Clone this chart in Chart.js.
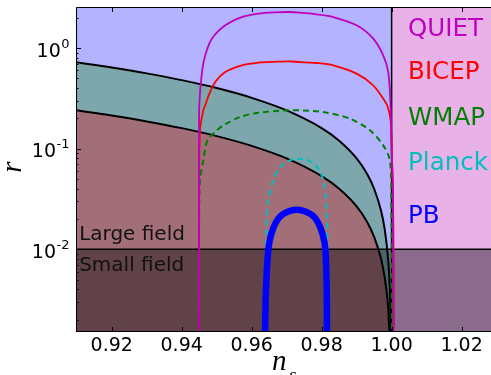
<!DOCTYPE html>
<html lang="en">
<head>
    <meta charset="UTF-8">
    <title>Tensor-to-scalar ratio vs spectral index</title>
    <script src="https://cdn.jsdelivr.net/npm/chart.js"></script>
    <style>
        html, body { margin: 0; padding: 0; background: #fff; }
        canvas { display: block; }
    </style>
</head>
<body>
    <canvas id="rnsChart" width="491" height="375"></canvas>
    <script>
        // axis ranges and ticks
        const nsRange = [0.9098, 1.0284];
        const rRange = [0.00151, 2.556];
        const xTicks = [0.92, 0.94, 0.96, 0.98, 1.00, 1.02];
        const xTickLabels = ['0.92', '0.94', '0.96', '0.98', '1.00', '1.02'];
        const yTicks = [0.01, 0.1, 1];
        const yTickExponents = ['-2', '-1', '0'];

        // n_s = 1 divider and the large / small field boundary
        const nsDivider = 1.0;
        const rFieldBoundary = 0.01;

        // chaotic inflation bounds (upper and lower edge of the large-field band)
        const boundNs = [0.9098, 0.92, 0.93, 0.94, 0.95, 0.96, 0.97, 0.98, 0.985, 0.99, 0.993, 0.995, 0.997, 0.998, 0.999, 0.9995, 0.9998, 1.0];
        const upperR  = [0.7216, 0.64, 0.56, 0.48, 0.40, 0.32, 0.24, 0.16, 0.12, 0.08, 0.056, 0.04, 0.024, 0.016, 0.008, 0.004, 0.0016, 0.0014];
        const lowerR  = [0.2405, 0.2133, 0.1867, 0.16, 0.1333, 0.1067, 0.08, 0.0533, 0.04, 0.0267, 0.0187, 0.0133, 0.008, 0.0053, 0.0027, 0.0013, 0.0013, 0.0013];

        // experiment contours, traced from bottom-left over the top to bottom-right
        const quietNs = [0.9449, 0.9449, 0.9450, 0.94503, 0.9458, 0.94674, 0.94866, 0.95246, 0.95723, 0.962, 0.9665, 0.9706, 0.9738, 0.9786, 0.98331, 0.99, 0.99474, 0.9976, 0.99903, 0.99971, 1.0, 1.00037, 1.0005, 1.00066];
        const quietR  = [0.0014, 0.01, 0.1, 0.2697, 0.5775, 0.8462, 1.24, 1.681, 2.032, 2.197, 2.26, 2.279, 2.247, 2.162, 2.032, 1.681, 1.24, 0.8462, 0.5775, 0.2697, 0.0964, 0.0432, 0.0098, 0.0014];

        const bicepNs = [0.9449, 0.9450, 0.94523, 0.94617, 0.94674, 0.94771, 0.9496, 0.95246, 0.95723, 0.962, 0.9664, 0.97057, 0.9738, 0.9785, 0.98331, 0.99, 0.99474, 0.9976, 0.99874, 0.99971, 1.0001, 1.0004, 1.0006];
        const bicepR  = [0.0014, 0.05, 0.1522, 0.2405, 0.2697, 0.3388, 0.4595, 0.5775, 0.673, 0.716, 0.73, 0.7377, 0.726, 0.71, 0.673, 0.5567, 0.426, 0.3143, 0.2697, 0.1913, 0.08, 0.03, 0.0014];

        const wmapNs = [0.9449, 0.9450, 0.94523, 0.94617, 0.94735, 0.94951, 0.95189, 0.95666, 0.96143, 0.97094, 0.98046, 0.98809, 0.9938, 0.9976, 0.99951, 0.9999, 1.0001];
        const wmapR  = [0.0014, 0.02, 0.0485, 0.0766, 0.121, 0.1464, 0.1706, 0.2063, 0.226, 0.2405, 0.2312, 0.1989, 0.1522, 0.108, 0.0766, 0.03, 0.0014];

        const planckNs = [0.9639, 0.9640, 0.96409, 0.96428, 0.96474, 0.96617, 0.96809, 0.97094, 0.9738, 0.97666, 0.97903, 0.98046, 0.98123, 0.9816, 0.9817];
        const planckR  = [0.0014, 0.005, 0.01054, 0.0194, 0.0307, 0.0485, 0.0657, 0.0766, 0.0796, 0.0754, 0.0634, 0.0485, 0.0307, 0.01545, 0.0014];

        const pbNs = [0.9638, 0.96409, 0.96474, 0.96551, 0.96694, 0.96894, 0.97286, 0.97694, 0.97894, 0.98037, 0.98109, 0.98146, 0.98151];
        const pbR  = [0.0014, 0.00392, 0.00977, 0.01377, 0.01854, 0.0223, 0.0247, 0.0223, 0.01854, 0.01377, 0.00977, 0.00392, 0.0014];

        const toPoints = (xs, ys) => xs.map((v, i) => ({ x: v, y: ys[i] }));

        const FONT = '"DejaVu Sans", sans-serif';

        // names next to the n_s = 1 edge, and the field labels
        const textLabels = [
            { text: 'QUIET',       ns: 1.0047, r: 1.307,   color: '#bf00bf', size: 24.5 },
            { text: 'BICEP',       ns: 1.0047, r: 0.4966,  color: '#ff0000', size: 24.5 },
            { text: 'WMAP',        ns: 1.0047, r: 0.1706,  color: '#008000', size: 24.5 },
            { text: 'Planck',      ns: 1.0047, r: 0.061,   color: '#00bfbf', size: 24.5 },
            { text: 'PB',          ns: 1.0047, r: 0.01825, color: '#0000ff', size: 24.5 },
            { text: 'Large field', ns: 0.9107, r: 0.01229, color: '#111111', size: 20 },
            { text: 'Small field', ns: 0.9107, r: 0.00609, color: '#111111', size: 20 }
        ];

        function region(color, pts, order) {
            return { data: pts, backgroundColor: color, borderWidth: 0, fill: 'start', order: order };
        }

        function contour(pts, color, width, dash, order) {
            return {
                data: pts, borderColor: color, borderWidth: width, borderDash: dash,
                fill: false, tension: 0.3, order: order
            };
        }

        const datasets = [
            // n_s < 1 background and n_s > 1 excluded side
            region('#b3b3ff', toPoints([nsRange[0], nsDivider], [rRange[1], rRange[1]]), 20),
            region('#e8b2e8', toPoints([nsDivider, nsRange[1]], [rRange[1], rRange[1]]), 19),
            // large-field band
            {
                data: toPoints(boundNs, upperR), backgroundColor: '#7ea7ad', borderColor: '#000',
                borderWidth: 2, fill: 'start', cubicInterpolationMode: 'monotone', order: 18
            },
            {
                data: toPoints(boundNs, lowerR), backgroundColor: '#a26f78', borderColor: '#000',
                borderWidth: 2, fill: 'start', cubicInterpolationMode: 'monotone', order: 17
            },
            // small-field shading below r = 0.01
            {
                data: toPoints([nsRange[0], nsRange[1]], [rFieldBoundary, rFieldBoundary]),
                backgroundColor: 'rgba(0,0,0,0.4)', borderColor: '#000', borderWidth: 1.5,
                fill: 'start', order: 16
            },
            {
                data: toPoints([nsDivider, nsDivider], [rRange[0] * 0.5, rRange[1] * 2]),
                borderColor: '#000', borderWidth: 1.5, fill: false, order: 15
            },
            contour(toPoints(planckNs, planckR), '#00bfbf', 2, [6, 4], 14),
            contour(toPoints(wmapNs, wmapR), '#008000', 2, [6, 4], 13),
            contour(toPoints(bicepNs, bicepR), '#ff0000', 1.8, [], 12),
            contour(toPoints(quietNs, quietR), '#bf00bf', 1.8, [], 11),
            contour(toPoints(pbNs, pbR), '#0000ff', 6.5, [], 10)
        ];

        // frame, inward ticks, tick labels, axis titles and text labels
        const decorations = {
            id: 'decorations',
            afterDraw(chart) {
                const { ctx, chartArea: a } = chart;
                const xs = chart.scales.x, ys = chart.scales.y;
                ctx.save();

                ctx.strokeStyle = '#000';
                ctx.lineWidth = 1;
                ctx.beginPath();
                ctx.moveTo(a.right, a.top + 0.5);
                ctx.lineTo(a.left + 0.5, a.top + 0.5);
                ctx.lineTo(a.left + 0.5, a.bottom - 0.5);
                ctx.lineTo(a.right, a.bottom - 0.5);
                ctx.stroke();

                ctx.beginPath();
                xTicks.forEach(v => {
                    const px = Math.round(xs.getPixelForValue(v)) + 0.5;
                    ctx.moveTo(px, a.bottom); ctx.lineTo(px, a.bottom - 5);
                    ctx.moveTo(px, a.top); ctx.lineTo(px, a.top + 5);
                });
                for (let e = -3; e <= 0; e++) {
                    for (let m = 1; m <= 9; m++) {
                        const v = m * Math.pow(10, e);
                        if (v < rRange[0] || v > rRange[1]) continue;
                        const py = Math.round(ys.getPixelForValue(v)) + 0.5;
                        ctx.moveTo(a.left, py);
                        ctx.lineTo(a.left + (m === 1 ? 5 : 2.5), py);
                    }
                }
                ctx.stroke();

                ctx.fillStyle = '#000';
                ctx.font = '19px ' + FONT;
                ctx.textAlign = 'center';
                ctx.textBaseline = 'alphabetic';
                xTicks.forEach((v, i) => {
                    ctx.fillText(xTickLabels[i], xs.getPixelForValue(v), a.bottom + 19);
                });

                ctx.textAlign = 'left';
                yTicks.forEach((v, i) => {
                    const py = ys.getPixelForValue(v);
                    ctx.font = '19px ' + FONT;
                    const wBase = ctx.measureText('10').width;
                    ctx.font = '13px ' + FONT;
                    const wSup = ctx.measureText(yTickExponents[i]).width;
                    const x0 = a.left - 7 - wBase - wSup;
                    ctx.font = '19px ' + FONT;
                    ctx.fillText('10', x0, py + 8.7);
                    ctx.font = '13px ' + FONT;
                    ctx.fillText(yTickExponents[i], x0 + wBase + 0.5, py - 0.5);
                });

                // axis titles
                ctx.font = 'italic 29px "Liberation Serif", serif';
                ctx.fillText('n', 272, 370);
                ctx.font = 'italic 19px "Liberation Serif", serif';
                ctx.fillText('s', 289, 381);
                ctx.save();
                ctx.translate(21, 167);
                ctx.rotate(-Math.PI / 2);
                ctx.font = 'italic 29px "Liberation Serif", serif';
                ctx.textAlign = 'center';
                ctx.fillText('r', 0, 0);
                ctx.restore();

                textLabels.forEach(l => {
                    ctx.font = l.size + 'px ' + FONT;
                    ctx.fillStyle = l.color;
                    ctx.fillText(l.text, xs.getPixelForValue(l.ns), ys.getPixelForValue(l.r));
                });
                ctx.restore();
            }
        };

        new Chart(document.getElementById('rnsChart').getContext('2d'), {
            type: 'line',
            data: { datasets: datasets },
            options: {
                responsive: false,
                animation: false,
                devicePixelRatio: 1,
                layout: { padding: { top: 7, right: 0, bottom: 0, left: 0 } },
                elements: { point: { radius: 0 } },
                plugins: { legend: { display: false }, tooltip: { enabled: false } },
                scales: {
                    x: {
                        type: 'linear', min: nsRange[0], max: nsRange[1], bounds: 'data',
                        grid: { display: false }, border: { display: false }, ticks: { display: false },
                        afterFit: s => { s.height = 43; }
                    },
                    y: {
                        type: 'logarithmic', min: rRange[0], max: rRange[1], bounds: 'data',
                        grid: { display: false }, border: { display: false }, ticks: { display: false },
                        afterFit: s => { s.width = 76; }
                    }
                }
            },
            plugins: [decorations]
        });
    </script>
</body>
</html>
